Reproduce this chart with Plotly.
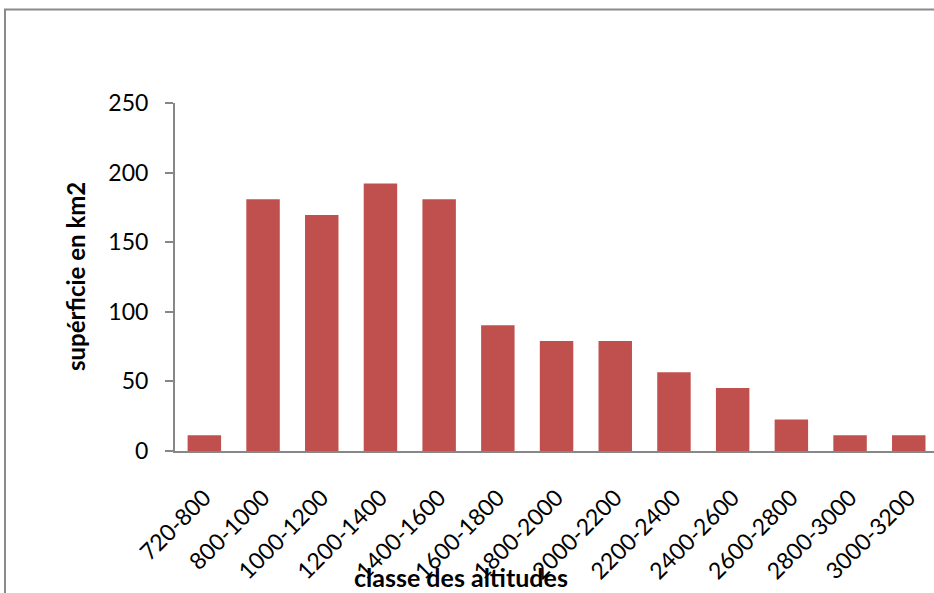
import plotly.graph_objects as go

# Altitude classes (m) and area covered by each class (km2)
classes = ["720-800", "800-1000", "1000-1200", "1200-1400", "1400-1600",
           "1600-1800", "1800-2000", "2000-2200", "2200-2400", "2400-2600",
           "2600-2800", "2800-3000", "3000-3200"]
surface_km2 = [11.3, 180.8, 169.5, 192.1, 180.8, 90.4, 79.1, 79.1,
               56.5, 45.2, 22.6, 11.3, 11.3]
y_ticks = [0, 50, 100, 150, 200, 250]

FONT = "Lato, 'Open Sans', sans-serif"
AXIS_GREY = "#878787"

fig = go.Figure(go.Bar(
    x=classes,
    y=surface_km2,
    marker=dict(color="#C0504D", line=dict(width=0)),
))

W, H = 934, 593
L, R, T, B = 175, 0, 103, 142
pw, ph = W - L - R, H - T - B

def px_x(px):
    return (px - L) / pw

def px_y(py):
    return (H - B - py) / ph

fig.update_layout(
    width=W, height=H,
    margin=dict(l=L, r=R, t=T, b=B),
    paper_bgcolor="white", plot_bgcolor="white",
    bargap=0.43,
    showlegend=False,
    font=dict(family=FONT, size=23, color="black"),
    xaxis=dict(
        type="category",
        range=[-0.5, 12.43],
        tickangle=-45,
        showline=True, linecolor=AXIS_GREY, linewidth=2,
        ticks="", showgrid=False, zeroline=False,
        ticklabelstandoff=22,
        tickfont=dict(family=FONT, size=23, color="black"),
    ),
    yaxis=dict(
        range=[0, 250],
        tickvals=y_ticks,
        showline=True, linecolor=AXIS_GREY, linewidth=2,
        ticks="outside", ticklen=8, tickcolor=AXIS_GREY, tickwidth=2,
        ticklabelstandoff=12,
        showgrid=False, zeroline=False,
        tickfont=dict(family=FONT, size=23, color="black"),
    ),
    shapes=[dict(
        type="rect", xref="paper", yref="paper",
        x0=px_x(5), x1=1.2, y0=-0.6, y1=px_y(9.5),
        line=dict(color="#8a8a8a", width=2), fillcolor="rgba(0,0,0,0)",
        layer="below",
    )],
    annotations=[
        dict(text="<b>classe des altitudes</b>", xref="paper", yref="paper",
             x=px_x(461), y=px_y(577), xanchor="center", yanchor="middle",
             showarrow=False, font=dict(family=FONT, size=25, color="black")),
        dict(text="<b>supérficie en km2</b>", xref="paper", yref="paper",
             x=px_x(75), y=0.5, xanchor="center", yanchor="middle",
             textangle=-90, showarrow=False,
             font=dict(family=FONT, size=24, color="black")),
    ],
)

fig.write_html("out.html")
